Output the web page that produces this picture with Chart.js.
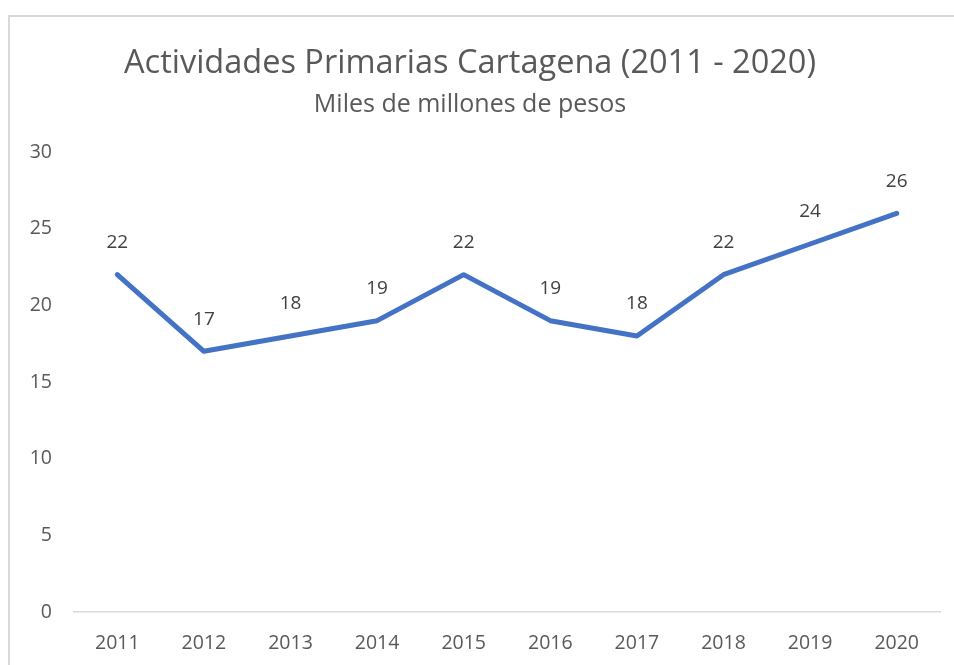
<!DOCTYPE html>
<html>
<head>
<meta charset="utf-8">
<script src="https://cdn.jsdelivr.net/npm/chart.js@4"></script>
<style>
  html, body { margin: 0; padding: 0; background: #fff; overflow: hidden; }
  #wrap { position: relative; width: 954px; height: 665px; }
  #frame { position: absolute; left: 8px; top: 15px; width: 1000px; height: 700px;
           border: 2px solid #d9d9d9; pointer-events: none; }
  canvas { position: absolute; left: 0; top: 0; }
</style>
</head>
<body>
<div id="wrap">
  <canvas id="chart" width="954" height="665"></canvas>
  <div id="frame"></div>
</div>
<script>
const years = ['2011', '2012', '2013', '2014', '2015', '2016', '2017', '2018', '2019', '2020'];
const valores = [22, 17, 18, 19, 22, 19, 18, 22, 24, 26];
const yTicks = [0, 5, 10, 15, 20, 25, 30];

const fuente = '"Open Sans", sans-serif';

// etiquetas de datos encima de cada punto
const etiquetas = {
  id: 'etiquetas',
  afterDatasetsDraw(chart) {
    const ctx = chart.ctx;
    const meta = chart.getDatasetMeta(0);
    ctx.save();
    ctx.font = '19px ' + fuente;
    ctx.fillStyle = '#404040';
    ctx.textAlign = 'center';
    ctx.textBaseline = 'middle';
    meta.data.forEach((pt, i) => {
      ctx.fillText(String(valores[i]), pt.x, pt.y - 32);
    });
    ctx.restore();
  }
};

const ctx = document.getElementById('chart').getContext('2d');
new Chart(ctx, {
  type: 'line',
  data: {
    labels: years,
    datasets: [{
      data: valores,
      borderColor: '#4472C4',
      borderWidth: 5,
      pointRadius: 0,
      borderJoinStyle: 'round',
      borderCapStyle: 'round',
      tension: 0,
      fill: false
    }]
  },
  options: {
    responsive: false,
    animation: false,
    layout: { padding: { top: 0, right: 14, bottom: 0, left: 0 } },
    plugins: {
      legend: { display: false },
      tooltip: { enabled: false },
      title: {
        display: true,
        text: 'Actividades Primarias Cartagena (2011 - 2020)',
        color: '#595959',
        font: { family: fuente, size: 32.5, weight: 'normal' },
        padding: { top: 44, bottom: 4 }
      },
      subtitle: {
        display: true,
        text: 'Miles de millones de pesos',
        color: '#595959',
        font: { family: fuente, size: 25, weight: 'normal' },
        padding: { top: 3, bottom: 32 }
      }
    },
    scales: {
      x: {
        offset: true,
        grid: { display: false },
        border: { display: true, color: '#d9d9d9', width: 1.5 },
        ticks: { color: '#595959', font: { family: fuente, size: 19.5 }, padding: 12 },
        afterFit(scale) { scale.height = 53; }
      },
      y: {
        min: 0,
        max: 30,
        grid: { display: false },
        border: { display: false },
        afterBuildTicks(scale) { scale.ticks = yTicks.map(v => ({ value: v })); },
        ticks: { color: '#595959', font: { family: fuente, size: 19.5 }, padding: 14 },
        afterFit(scale) { scale.width = 74; }
      }
    }
  },
  plugins: [etiquetas]
});
</script>
</body>
</html>
